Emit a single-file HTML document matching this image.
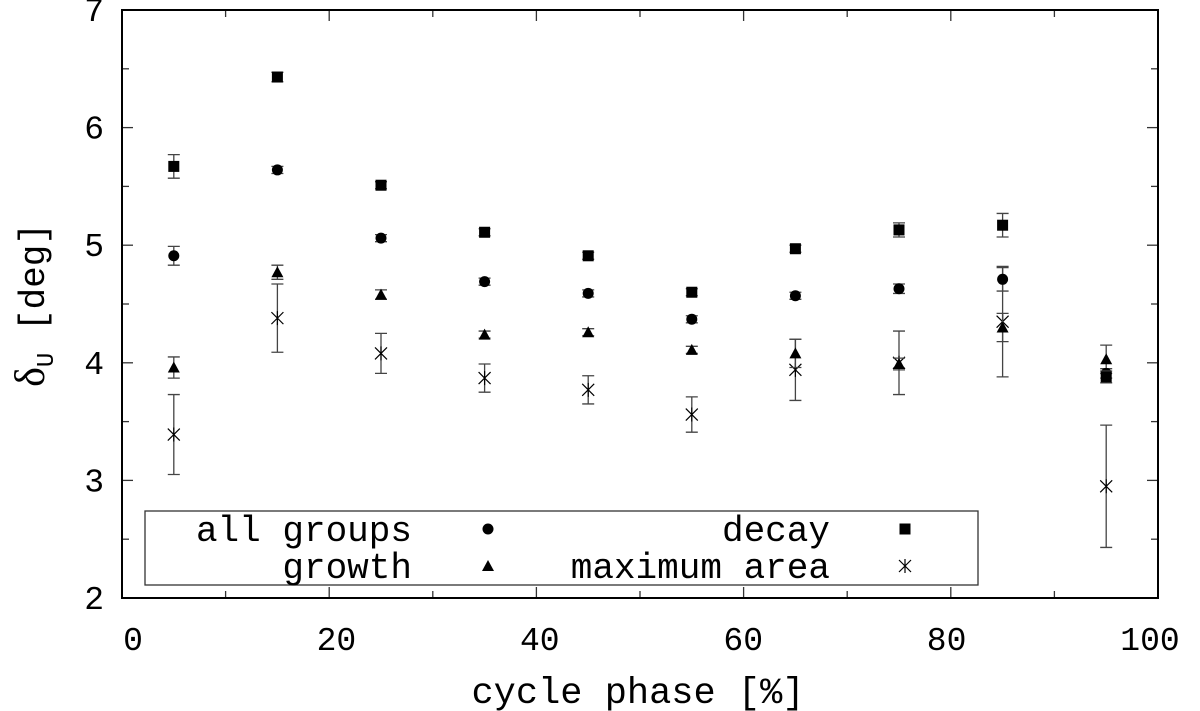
<!DOCTYPE html>
<html><head><meta charset="utf-8"><style>body{margin:0;background:#fff}svg{display:block}text{font-family:"Liberation Mono",monospace;fill:#000}</style></head>
<body>
<svg id="c" width="1200" height="711"></svg>
<script>
const xs=[5,15,25,35,45,55,65,75,85,95];
const allV=[4.91,5.64,5.06,4.69,4.59,4.37,4.57,4.63,4.71,3.91];
const allE=[0.08,0.03,0.03,0.03,0.03,0.03,0.03,0.04,0.1,0.04];
const decV=[5.67,6.43,5.51,5.11,4.91,4.60,4.97,5.13,5.17,3.88];
const decE=[0.1,0.04,0.03,0.03,0.03,0.03,0.03,0.06,0.1,0.05];
const groV=[3.96,4.77,4.58,4.24,4.26,4.11,4.08,3.99,4.30,4.03];
const groE=[0.09,0.06,0.04,0.03,0.03,0.03,0.12,0.05,0.12,0.12];
const maxV=[3.39,4.38,4.08,3.87,3.77,3.56,3.94,4.00,4.35,2.95];
const maxE=[0.34,0.29,0.17,0.12,0.12,0.15,0.26,0.27,0.47,0.52];
const xTicks=[0,20,40,60,80,100];
const yTicks=[2,3,4,5,6,7];
const L=122,R=1158,T=10,B=598;
const X=v=>L+(v-0)/100*(R-L), Y=v=>B-(v-2)/5*(B-T);
const s=document.getElementById('c'),NS='http://www.w3.org/2000/svg';
function el(t,a,p){const e=document.createElementNS(NS,t);for(const k in a)e.setAttribute(k,a[k]);(p||s).appendChild(e);return e;}
const ax=el('g',{});


for(let v=0;v<=100;v+=10){const l=v%20==0?11:7;el('line',{x1:X(v),x2:X(v),y1:B,y2:B-l,stroke:'#333','stroke-width':1.3},ax);el('line',{x1:X(v),x2:X(v),y1:T,y2:T+l,stroke:'#333','stroke-width':1.3},ax);}
for(let v=2;v<=7;v+=0.5){const l=v%1==0?11:7;el('line',{x1:L,x2:L+l,y1:Y(v),y2:Y(v),stroke:'#333','stroke-width':1.3},ax);el('line',{x1:R,x2:R-l,y1:Y(v),y2:Y(v),stroke:'#333','stroke-width':1.3},ax);}
el('rect',{x:L,y:T,width:R-L,height:B-T,fill:'none',stroke:'#000','stroke-width':2},ax);
xTicks.forEach(v=>{const t=el('text',{x:X(v)+11-0.19*v,y:650,'text-anchor':'middle','font-size':33},ax);t.textContent=v;

});
yTicks.forEach(v=>{const t=el('text',{x:104,y:Y(v)+11,'text-anchor':'end','font-size':33},ax);t.textContent=v;

});
const xt=el('text',{x:638,y:703,'text-anchor':'middle','font-size':37});xt.textContent='cycle phase [%]';


const yt=el('text',{transform:'translate(44,305) rotate(-90)','text-anchor':'middle','font-size':36});
yt.innerHTML='<tspan font-family="Liberation Serif, serif" font-size="42">δ</tspan><tspan font-size="24" dy="9">U</tspan><tspan dy="-9"> [deg]</tspan>';


function marker(g,type,cx,cy){
 if(type=='c')el('circle',{cx,cy,r:5.5,fill:'#000'},g);
 else if(type=='s')el('rect',{x:cx-5.5,y:cy-5.5,width:11,height:11,fill:'#000'},g);
 else if(type=='t')el('polygon',{points:`${cx},${cy-6} ${cx-6},${cy+5} ${cx+6},${cy+5}`,fill:'#000'},g);
 else{const d=6;el('path',{d:`M${cx-d} ${cy-d}L${cx+d} ${cy+d}M${cx-d} ${cy+d}L${cx+d} ${cy-d}M${cx} ${cy-d-1}L${cx} ${cy+d+1}`,stroke:'#000','stroke-width':1.2,fill:'none'},g);}
}
function series(name,vals,errs,type){
 const g=el('g',{});
 
 
 xs.forEach((x,i)=>{const cx=X(x),y1=Y(vals[i]-errs[i]),y2=Y(vals[i]+errs[i]);
  el('path',{d:`M${cx} ${y1}L${cx} ${y2}M${cx-6} ${y1}L${cx+6} ${y1}M${cx-6} ${y2}L${cx+6} ${y2}`,stroke:'#444','stroke-width':1.3,fill:'none'},g);
  marker(g,type,cx,Y(vals[i]));});
}
series('series-maximum-area',maxV,maxE,'x');
series('series-growth',groV,groE,'t');
series('series-all-groups',allV,allE,'c');
series('series-decay',decV,decE,'s');
const lg=el('g',{});


el('rect',{x:145,y:511,width:833,height:74,fill:'#fff',stroke:'#333','stroke-width':1.3},lg);
[['all groups',412,541,'c',488],['growth',412,578,'t',488],['decay',830,541,'s',905],['maximum area',830,578,'x',905]].forEach(([t,tx,ty,m,mx])=>{
 const e=el('text',{x:tx,y:ty,'text-anchor':'end','font-size':36},lg);e.textContent=t;
 
 
 marker(lg,m,mx,ty-12);});
</script>
</body></html>
